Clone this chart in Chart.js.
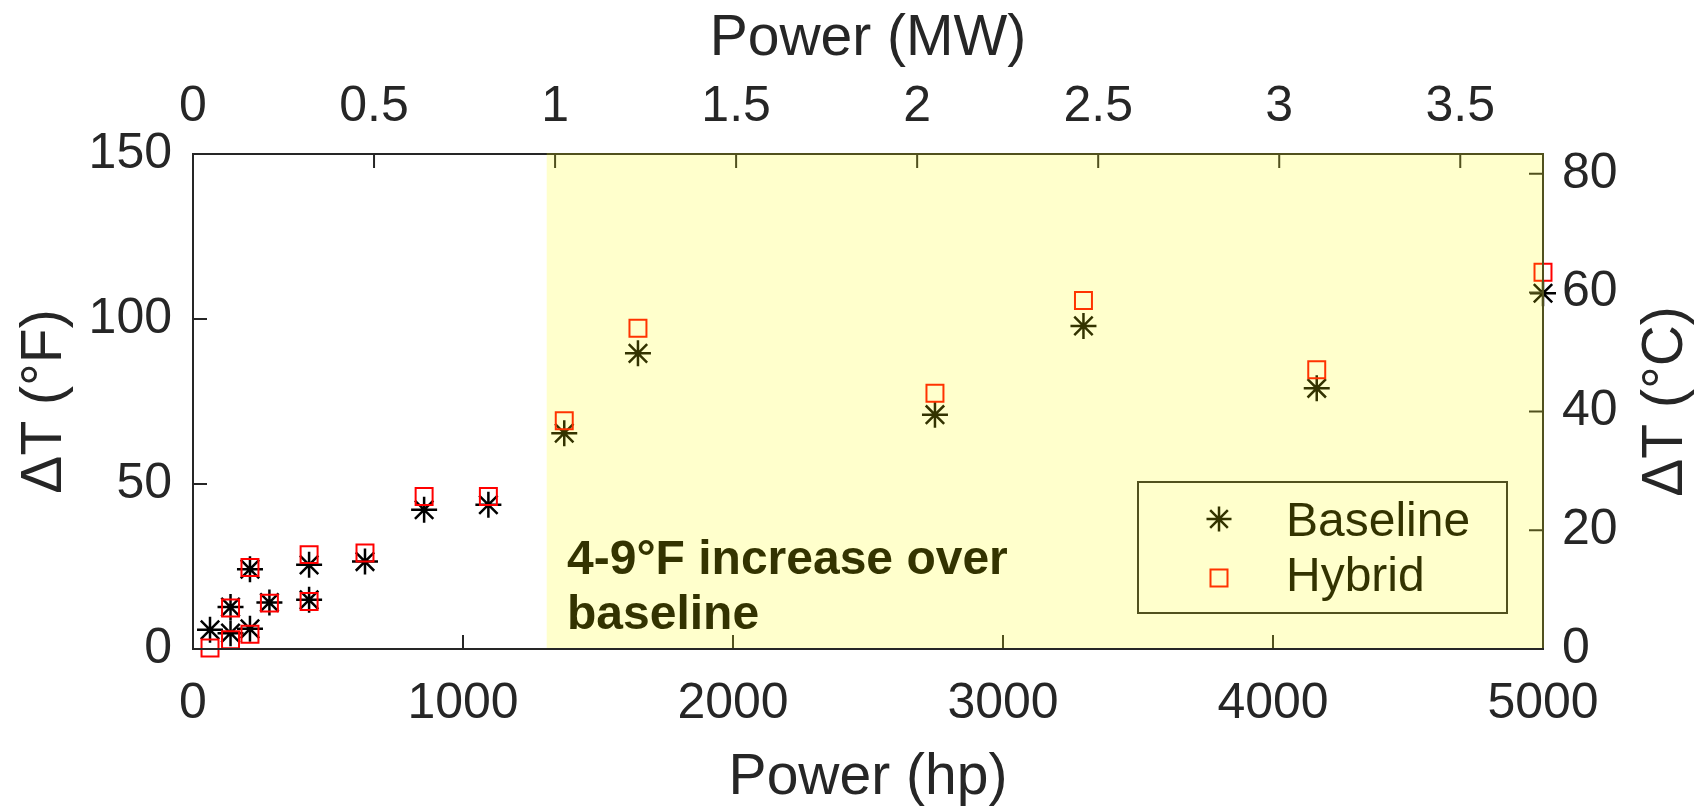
<!DOCTYPE html>
<html><head><meta charset="utf-8">
<script src="https://cdn.jsdelivr.net/npm/chart.js@4/dist/chart.umd.min.js"></script>
<style>html,body{margin:0;padding:0;background:#fff;} #wrap{width:1699px;height:812px;position:relative;}</style>
</head><body><div id="wrap"><canvas id="c"></canvas></div>
<script>
// ---- data ----
const powerHp   = [63, 139, 139, 211, 211, 283, 430, 430, 637, 856, 1094, 1375, 1648, 2748, 3298, 4162, 5000];
const baselineF = [5.8, 4.8, 12.7, 6.1, 24.2, 14.1, 14.9, 25.5, 26.5, 42.2, 43.7, 65.4, 89.6, 71.0, 97.9, 79.0, 107.8];
const hybridF   = [0.3, 2.8, 12.4, 4.5, 24.7, 13.9, 14.4, 28.6, 29.1, 46.2, 46.2, 69.2, 97.2, 77.5, 105.6, 84.6, 114.2];
const hpTicks = [0, 1000, 2000, 3000, 4000, 5000];
const mwTicks = [0, 0.5, 1, 1.5, 2, 2.5, 3, 3.5];
const fTicks = [0, 50, 100, 150];
const cTicks = [0, 20, 40, 60, 80];
const seriesNames = ['Baseline', 'Hybrid'];
const shadeStartHp = 1310;
const annotationLines = ['4-9°F increase over', 'baseline'];
const HP_PER_MW = 1341.02;
const HP_MAX = 5000, F_MAX = 150;

const FONT = "'Liberation Sans', Arial, Helvetica, sans-serif";
const AX = '#262626';
Chart.defaults.font.family = FONT;
Chart.defaults.color = AX;

function toPts(xs, ys){ return xs.map((x,i)=>({x:x, y:ys[i]})); }
function setTicks(arr){ return s => { s.ticks = arr.map(v=>({value:v})); }; }
const plainLabel = v => String(v);

function drawStar(ctx, x, y, r){
  ctx.beginPath();
  for (let k=0;k<4;k++){
    const a = k*Math.PI/4;
    ctx.moveTo(x - Math.cos(a)*r, y - Math.sin(a)*r);
    ctx.lineTo(x + Math.cos(a)*r, y + Math.sin(a)*r);
  }
  ctx.stroke();
}

const decor = {
  id: 'decor',
  afterDraw(chart){
    const ctx = chart.ctx;
    const a = chart.chartArea;
    const xs = chart.scales.x, x2 = chart.scales.x2, ys = chart.scales.y, y2 = chart.scales.y2;
    ctx.save();
    // box
    ctx.strokeStyle = AX; ctx.lineWidth = 2;
    ctx.strokeRect(a.left, a.top, a.right - a.left, a.bottom - a.top);
    // inward ticks
    const TL = 14;
    ctx.beginPath();
    hpTicks.forEach(v=>{ const p = xs.getPixelForValue(v); ctx.moveTo(p, a.bottom); ctx.lineTo(p, a.bottom - TL); });
    mwTicks.forEach(v=>{ const p = x2.getPixelForValue(v); ctx.moveTo(p, a.top); ctx.lineTo(p, a.top + TL); });
    fTicks.forEach(v=>{ const p = ys.getPixelForValue(v); ctx.moveTo(a.left, p); ctx.lineTo(a.left + TL, p); });
    cTicks.forEach(v=>{ const p = y2.getPixelForValue(v); ctx.moveTo(a.right, p); ctx.lineTo(a.right - TL, p); });
    ctx.stroke();

    // annotation text
    ctx.fillStyle = '#000';
    ctx.font = "bold 48px " + FONT;
    ctx.textAlign = 'left'; ctx.textBaseline = 'alphabetic';
    ctx.fillText(annotationLines[0], 567, 574);
    ctx.fillText(annotationLines[1], 567, 629);

    // legend
    const lx = 1138, ly = 482, lw = 369, lh = 131;
    ctx.fillStyle = '#fff'; ctx.fillRect(lx, ly, lw, lh);
    ctx.strokeStyle = AX; ctx.lineWidth = 2; ctx.strokeRect(lx, ly, lw, lh);
    ctx.strokeStyle = '#000'; ctx.lineWidth = 2.5;
    drawStar(ctx, 1219, 519, 12.5);
    ctx.strokeStyle = '#ff0000'; ctx.lineWidth = 2;
    ctx.strokeRect(1219 - 8.5, 578 - 8.5, 17, 17);
    ctx.fillStyle = '#000'; ctx.font = "48px " + FONT; ctx.textBaseline = 'middle';
    ctx.fillText(seriesNames[0], 1286, 523);
    ctx.fillText(seriesNames[1], 1286, 578);

    // translucent yellow shading drawn over everything inside
    const sx = xs.getPixelForValue(shadeStartHp);
    ctx.fillStyle = 'rgba(255,255,0,0.2)';
    ctx.fillRect(sx, a.top - 1, a.right + 1 - sx, a.bottom - a.top);

    // right axis title (reads bottom to top)
    ctx.fillStyle = AX; ctx.font = "57px " + FONT;
    ctx.textAlign = 'center'; ctx.textBaseline = 'middle';
    ctx.translate(1666, (a.top + a.bottom)/2);
    ctx.rotate(-Math.PI/2);
    ctx.fillText('\u0394T (°C)', 0, 0);
    ctx.restore();
  }
};

const tickFont = {family: FONT, size: 50, lineHeight: 1};
const titleFont = {family: FONT, size: 57, lineHeight: 1};

new Chart(document.getElementById('c'), {
  type: 'scatter',
  data: {
    datasets: [
      { label: seriesNames[0], data: toPts(powerHp, baselineF), pointStyle: 'star', radius: 13, hoverRadius: 13,
        borderColor: '#000', backgroundColor: '#000', borderWidth: 2.5, hoverBorderWidth: 2.5, order: 2, clip: false,
        xAxisID: 'x', yAxisID: 'y' },
      { label: seriesNames[1], data: toPts(powerHp, hybridF), pointStyle: 'rect', radius: 12, hoverRadius: 12,
        borderColor: '#ff0000', backgroundColor: 'rgba(0,0,0,0)', borderWidth: 2, hoverBorderWidth: 2, order: 1, clip: false,
        xAxisID: 'x', yAxisID: 'y' }
    ]
  },
  options: {
    responsive: true, maintainAspectRatio: false, animation: false, devicePixelRatio: 1,
    layout: { padding: 0 },
    plugins: { legend: { display: false }, tooltip: { enabled: false } },
    events: [],
    scales: {
      x: { type: 'linear', position: 'bottom', min: 0, max: HP_MAX,
        afterBuildTicks: setTicks(hpTicks),
        grid: { display: false, drawTicks: false }, border: { display: false },
        ticks: { font: tickFont, color: AX, padding: 30, maxRotation: 0, autoSkip: false, callback: plainLabel },
        title: { display: true, text: 'Power (hp)', font: titleFont, color: AX, padding: { top: 0, bottom: 5 } },
        afterFit: s => { s.height = 163; } },
      x2: { type: 'linear', position: 'top', min: 0, max: HP_MAX / HP_PER_MW,
        afterBuildTicks: setTicks(mwTicks),
        grid: { display: false, drawTicks: false }, border: { display: false },
        ticks: { font: tickFont, color: AX, padding: 22, maxRotation: 0, autoSkip: false, callback: plainLabel },
        title: { display: true, text: 'Power (MW)', font: titleFont, color: AX, padding: { top: 11, bottom: 0 } },
        afterFit: s => { s.height = 154; } },
      y: { type: 'linear', position: 'left', min: 0, max: F_MAX,
        afterBuildTicks: setTicks(fTicks),
        grid: { display: false, drawTicks: false }, border: { display: false },
        ticks: { font: tickFont, color: AX, padding: 21, autoSkip: false, callback: plainLabel },
        title: { display: true, text: '\u0394T (°F)', font: titleFont, color: AX, padding: { top: 17, bottom: 0 } },
        afterFit: s => { s.width = 193; } },
      y2: { type: 'linear', position: 'right', min: 0, max: F_MAX / 1.8,
        afterBuildTicks: setTicks(cTicks),
        grid: { display: false, drawTicks: false }, border: { display: false },
        ticks: { font: tickFont, color: AX, padding: 19, autoSkip: false, callback: plainLabel },
        afterFit: s => { s.width = 156; } }
    }
  },
  plugins: [decor]
});
</script>
</body></html>
